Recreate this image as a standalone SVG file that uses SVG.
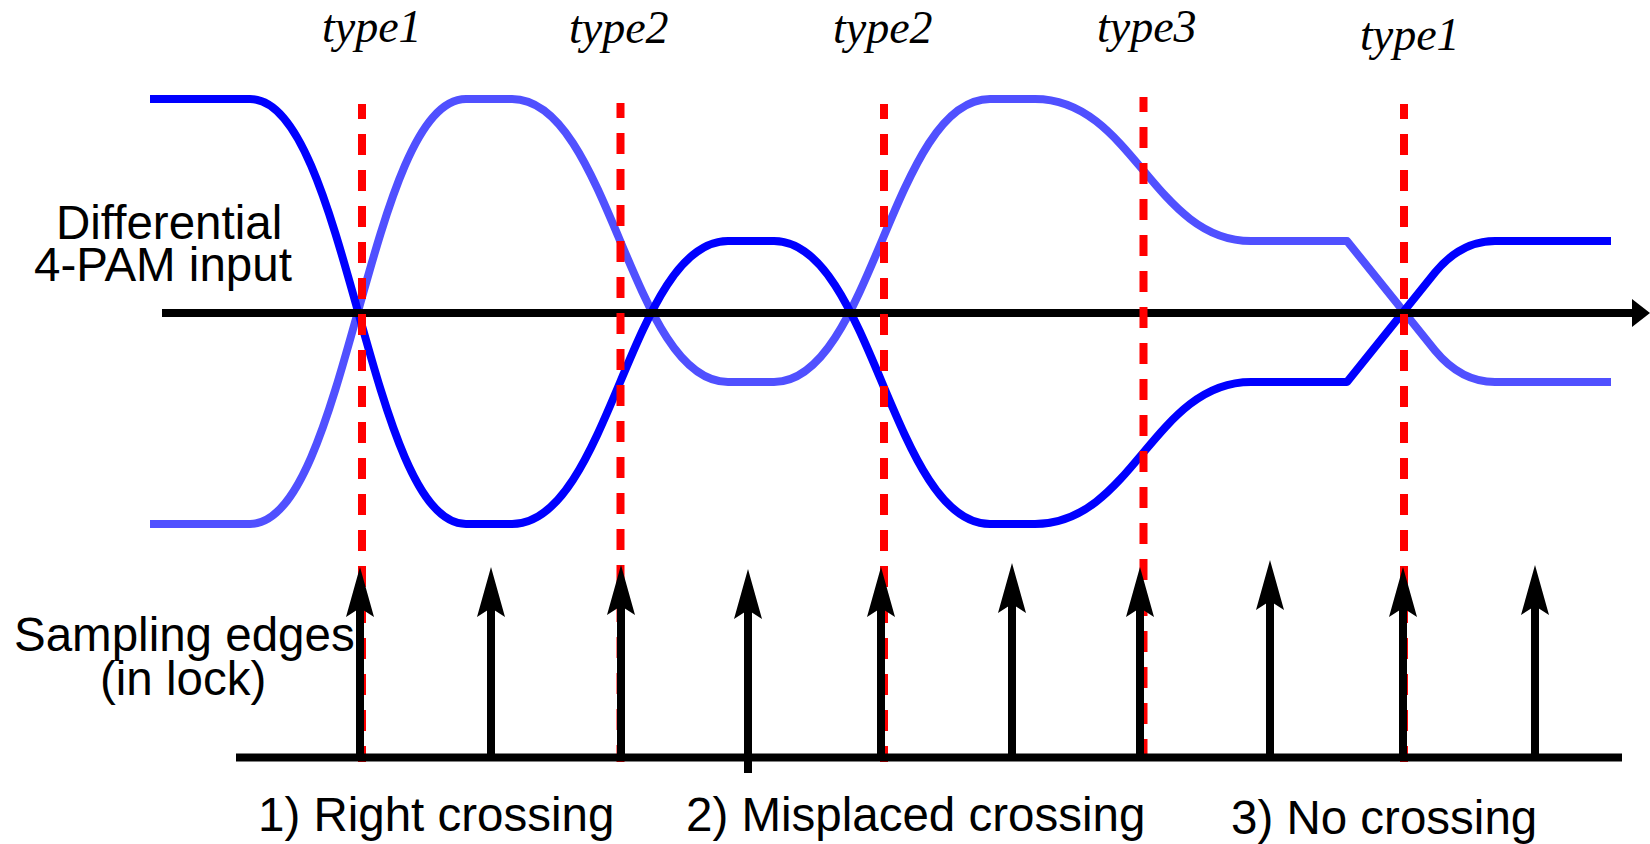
<svg xmlns="http://www.w3.org/2000/svg" width="1650" height="844" viewBox="0 0 1650 844">
  <style>
    .sans { font-family: "Liberation Sans", Arial, sans-serif; font-size: 47.5px; fill: #000; }
    .type { font-family: "Liberation Serif", "Times New Roman", serif; font-style: italic; font-size: 46px; fill: #000; }
    .wave { fill: none; stroke-width: 8; stroke-linejoin: round; }
    .neg { stroke: #5050ff; }
    .pos { stroke: #0000ff; }
    .axis { stroke: #000; stroke-width: 8; fill: none; }
    .mark { stroke: #ff0000; stroke-width: 8; stroke-dasharray: 21 15; stroke-dashoffset: 6; fill: none; }
    .edge { stroke: #000; stroke-width: 8; fill: none; }
  </style>
  <defs>
    <path id="head" d="M0,0 L14,50 L0,41 L-14,50 Z" fill="#000"/>
  </defs>

  <!-- labels -->
  <g id="label-input">
    <text class="sans" x="56" y="239">Differential</text>
    <text class="sans" x="34" y="281">4-PAM input</text>
  </g>
  <g id="label-sampling">
    <text class="sans" x="14" y="651">Sampling edges</text>
    <text class="sans" x="100" y="695">(in lock)</text>
  </g>
  <g id="label-cases">
    <text class="sans" x="258" y="831">1) Right crossing</text>
    <text class="sans" x="686" y="831">2) Misplaced crossing</text>
    <text class="sans" x="1231" y="834">3) No crossing</text>
  </g>
  <g id="label-types">
    <text class="type" x="322" y="42">type1</text>
    <text class="type" x="569" y="43">type2</text>
    <text class="type" x="833" y="43">type2</text>
    <text class="type" x="1097" y="42">type3</text>
    <text class="type" x="1360" y="50">type1</text>
  </g>

  <!-- differential waveform: negative leg under positive leg -->
  <g id="waveform">
    <path class="wave neg" d="M150,524 L250,524 C347,524 369,99 466,99 L512,99 C609,99 631,382 728,382 L774,382 C871,382 893,99 990,99 L1035,99 C1132,99 1154,241 1251,241 L1347,241 L1435,350.5 Q1461,382 1495,382 L1611,382"/>
    <path class="wave pos" d="M150,99 L250,99 C347,99 369,524 466,524 L512,524 C609,524 631,241 728,241 L774,241 C871,241 893,524 990,524 L1035,524 C1132,524 1154,382 1251,382 L1347,382 L1435,272.5 Q1461,241 1495,241 L1611,241"/>
  </g>

  <!-- time axis of the input -->
  <g id="input-axis">
    <line class="axis" x1="162" y1="313" x2="1636" y2="313"/>
    <polygon points="1632,299 1650,313 1632,327" fill="#000"/>
  </g>

  <!-- connectors: crossing markers and sampling edges -->
  <g id="connectors">
    <g id="crossing-markers">
      <line class="mark" x1="362" y1="104" x2="362" y2="762"/>
      <line class="mark" x1="620.5" y1="103" x2="620.5" y2="762"/>
      <line class="mark" x1="884" y1="104" x2="884" y2="762"/>
      <line class="mark" x1="1143.5" y1="97" x2="1143.5" y2="762"/>
      <line class="mark" x1="1404" y1="104" x2="1404" y2="762"/>
    </g>
    <line id="clock-axis" class="axis" x1="236" y1="757.5" x2="1622" y2="757.5"/>
    <g id="sampling-edges">
      <line class="edge" x1="360" y1="757" x2="360" y2="600"/>
      <use href="#head" x="360" y="567"/>
      <line class="edge" x1="491" y1="757" x2="491" y2="600"/>
      <use href="#head" x="491" y="567"/>
      <line class="edge" x1="621" y1="757" x2="621" y2="600"/>
      <use href="#head" x="621" y="565"/>
      <line class="edge" x1="748" y1="773" x2="748" y2="600"/>
      <use href="#head" x="748" y="569"/>
      <line class="edge" x1="881" y1="757" x2="881" y2="600"/>
      <use href="#head" x="881" y="567"/>
      <line class="edge" x1="1012" y1="757" x2="1012" y2="600"/>
      <use href="#head" x="1012" y="563"/>
      <line class="edge" x1="1140" y1="757" x2="1140" y2="600"/>
      <use href="#head" x="1140" y="567"/>
      <line class="edge" x1="1270" y1="757" x2="1270" y2="600"/>
      <use href="#head" x="1270" y="560"/>
      <line class="edge" x1="1403" y1="757" x2="1403" y2="600"/>
      <use href="#head" x="1403" y="567"/>
      <line class="edge" x1="1535" y1="757" x2="1535" y2="600"/>
      <use href="#head" x="1535" y="565"/>
    </g>
  </g>
</svg>
